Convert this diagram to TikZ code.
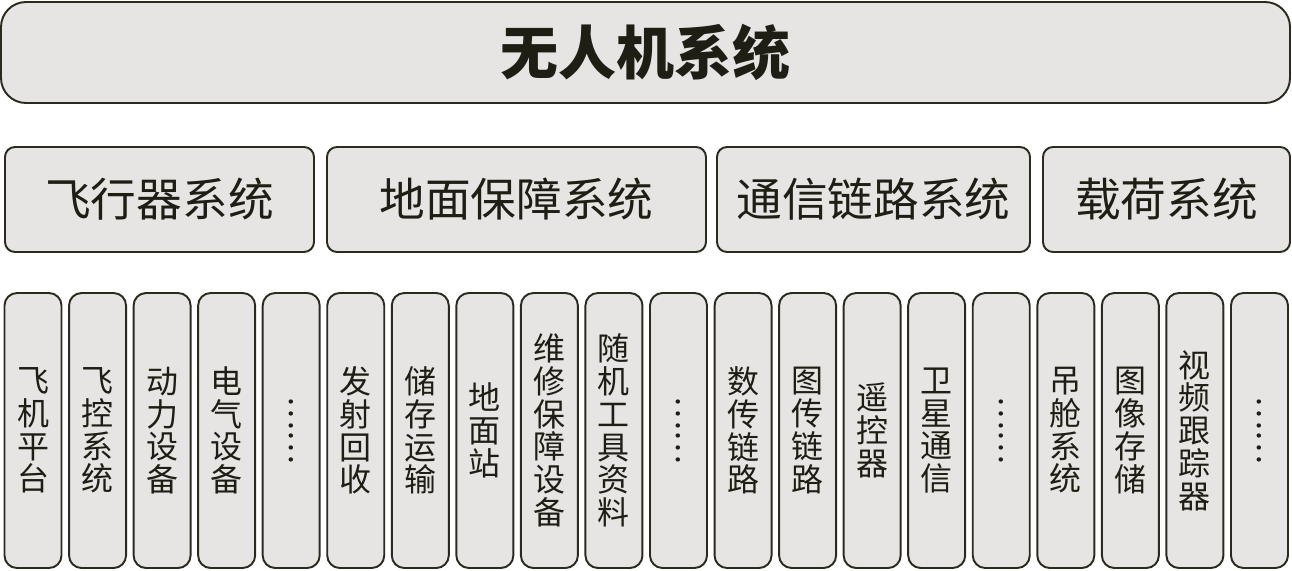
\documentclass[tikz,border=0pt]{standalone}
\usepackage{fontspec}
\setmainfont{Noto Sans CJK SC}
\usepackage{xcolor}
\usepackage{graphicx}
\usepackage{tikz}
\usetikzlibrary{positioning}
\definecolor{boxfill}{HTML}{E6E5E3}
\definecolor{boxline}{HTML}{2B2A1F}
\definecolor{boxtext}{HTML}{1F1E14}
\tikzstyle{top} = [rectangle,rounded corners=0.5cm,minimum width=25.78cm,minimum height=2.02cm,text centered,draw=boxline,fill=boxfill,line width=1.1pt,outer sep=0pt,text=boxtext,font=\fontsize{33pt}{36pt}\selectfont\bfseries]
\tikzstyle{sub} = [rectangle,rounded corners=0.2cm,minimum height=2.1cm,text centered,draw=boxline,fill=boxfill,line width=1.1pt,outer sep=0pt,text=boxtext,font=\fontsize{26pt}{30pt}\selectfont]
\tikzstyle{leaf} = [rectangle,rounded corners=0.25cm,minimum width=1.14cm,minimum height=5.5cm,text centered,draw=boxline,fill=boxfill,line width=1.1pt,outer sep=0pt,text=boxtext,inner sep=0pt,font=\fontsize{18.2pt}{18.6pt}\selectfont]
\newcommand{\vdotsbox}{\rotatebox{-90}{……}}

\begin{document}
\begin{tikzpicture}[align=center,node distance=0.151cm]
        \useasboundingbox (0,0) rectangle (25.84,-11.4);
        \node (uav) [top] at (12.91,-1.05) {无人机系统};
        \node (fly) [sub, minimum width=6.18cm] at (3.19,-3.99) {飞行器系统};
        \node (ground) [sub, minimum width=7.58cm, right=0.26cm of fly] {地面保障系统};
        \node (comm) [sub, minimum width=6.26cm, right=0.22cm of ground] {通信链路系统};
        \node (load) [sub, minimum width=4.94cm, right=0.26cm of comm] {载荷系统};
        \node (plane) [leaf] at (0.66,-8.61) {飞\\机\\平\\台};
        \node (fcs) [leaf, right=of plane] {飞\\控\\系\\统};
        \node (power) [leaf, right=of fcs] {动\\力\\设\\备};
        \node (elec) [leaf, right=of power] {电\\气\\设\\备};
        \node (flymore) [leaf, right=of elec] {\vdotsbox};
        \node (launch) [leaf, right=of flymore] {发\\射\\回\\收};
        \node (store) [leaf, right=of launch] {储\\存\\运\\输};
        \node (gcs) [leaf, right=of store] {地\\面\\站};
        \node (repair) [leaf, right=of gcs] {维\\修\\保\\障\\设\\备};
        \node (tools) [leaf, right=of repair] {随\\机\\工\\具\\资\\料};
        \node (groundmore) [leaf, right=of tools] {\vdotsbox};
        \node (data) [leaf, right=of groundmore] {数\\传\\链\\路};
        \node (image) [leaf, right=of data] {图\\传\\链\\路};
        \node (remote) [leaf, right=of image] {遥\\控\\器};
        \node (sat) [leaf, right=of remote] {卫\\星\\通\\信};
        \node (commmore) [leaf, right=of sat] {\vdotsbox};
        \node (gimbal) [leaf, right=of commmore] {吊\\舱\\系\\统};
        \node (record) [leaf, right=of gimbal] {图\\像\\存\\储};
        \node (tracker) [leaf, right=of record] {视\\频\\跟\\踪\\器};
        \node (loadmore) [leaf, right=of tracker] {\vdotsbox};
    \end{tikzpicture}
\end{document}
